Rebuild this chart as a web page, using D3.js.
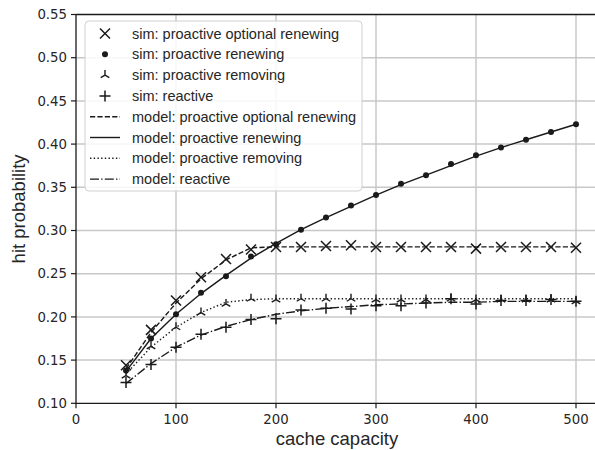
<!DOCTYPE html>
<html>
<head>
<meta charset="utf-8" />
<script src="https://cdn.jsdelivr.net/npm/d3@7"></script>
<style>
  body { margin: 0; background: #fff; }
  svg { display: block; }
  .tick-label { font-family: 'DejaVu Sans', sans-serif; font-size: 13.3px; fill: #262626; }
  .axis-label { font-family: 'Liberation Sans', Arial, sans-serif; font-size: 18.5px; fill: #262626; }
  .legend-text { font-family: 'Liberation Sans', Arial, sans-serif; font-size: 14.5px; fill: #262626; }
</style>
</head>
<body>
<svg id="chart"></svg>
<script>
// cache capacity values
var capacity = [50, 75, 100, 125, 150, 175, 200, 225, 250, 275, 300, 325, 350, 375, 400, 425, 450, 475, 500];

// simulation results (markers)
var simOptional = [0.144, 0.185, 0.219, 0.246, 0.267, 0.278, 0.281, 0.281, 0.282, 0.283, 0.281, 0.281, 0.281, 0.281, 0.279, 0.281, 0.281, 0.281, 0.280];
var simRenewing = [0.138, 0.175, 0.203, 0.228, 0.247, 0.270, 0.284, 0.301, 0.315, 0.329, 0.341, 0.354, 0.364, 0.377, 0.387, 0.396, 0.405, 0.414, 0.423];
var simRemoving = [0.132, 0.166, 0.188, 0.205, 0.215, 0.221, 0.220, 0.221, 0.221, 0.221, 0.220, 0.220, 0.220, 0.221, 0.220, 0.220, 0.220, 0.220, 0.218];
var simReactive = [0.124, 0.145, 0.165, 0.180, 0.188, 0.197, 0.198, 0.208, 0.210, 0.209, 0.213, 0.213, 0.216, 0.221, 0.215, 0.219, 0.219, 0.220, 0.218];

// model results (lines)
var modelOptional = [0.140, 0.182, 0.216, 0.244, 0.266, 0.280, 0.281, 0.281, 0.281, 0.281, 0.281, 0.281, 0.281, 0.281, 0.281, 0.281, 0.281, 0.281, 0.281];
var modelRenewing = [0.137, 0.175, 0.203, 0.227, 0.248, 0.268, 0.285, 0.301, 0.315, 0.328, 0.341, 0.353, 0.364, 0.375, 0.386, 0.396, 0.405, 0.414, 0.423];
var modelRemoving = [0.134, 0.165, 0.188, 0.205, 0.217, 0.220, 0.221, 0.221, 0.221, 0.221, 0.221, 0.221, 0.221, 0.221, 0.221, 0.221, 0.221, 0.221, 0.221];
var modelReactive = [0.123, 0.146, 0.165, 0.179, 0.189, 0.197, 0.203, 0.207, 0.210, 0.212, 0.214, 0.215, 0.216, 0.217, 0.217, 0.218, 0.218, 0.218, 0.218];

var xTicks = [0, 100, 200, 300, 400, 500];
var yTicks = [0.10, 0.15, 0.20, 0.25, 0.30, 0.35, 0.40, 0.45, 0.50, 0.55];

var legendLabels = [
  'sim: proactive optional renewing',
  'sim: proactive renewing',
  'sim: proactive removing',
  'sim: reactive',
  'model: proactive optional renewing',
  'model: proactive renewing',
  'model: proactive removing',
  'model: reactive'
];

var width = 595, height = 450;
var ink = '#1a1a1a';
var lw = 1.4;

var svg = d3.select('#chart')
  .attr('width', width)
  .attr('height', height);

var x = d3.scaleLinear().domain([0, 525]).range([76, 601]);
var y = d3.scaleLinear().domain([0.10, 0.55]).range([403.3, 14.5]);

var plot = svg.append('g');

// grid
plot.selectAll('.vgrid')
  .data(xTicks.slice(1))
  .enter().append('line')
  .attr('x1', function (d) { return x(d); })
  .attr('x2', function (d) { return x(d); })
  .attr('y1', y(0.55))
  .attr('y2', y(0.10))
  .attr('stroke', '#c8c8c8')
  .attr('stroke-width', 1.5);

plot.selectAll('.hgrid')
  .data(yTicks.slice(1, -1))
  .enter().append('line')
  .attr('x1', x(0))
  .attr('x2', width)
  .attr('y1', function (d) { return y(d); })
  .attr('y2', function (d) { return y(d); })
  .attr('stroke', '#c8c8c8')
  .attr('stroke-width', 1.5);

// model lines
var line = d3.line()
  .x(function (d) { return x(d[0]); })
  .y(function (d) { return y(d[1]); });

var styles = {
  dashed: '5.2,2.2',
  solid: null,
  dotted: '1.4,2.3',
  dashdot: '9,2.2,1.4,2.2'
};

var models = [
  { values: modelOptional, dash: styles.dashed },
  { values: modelRenewing, dash: styles.solid },
  { values: modelRemoving, dash: styles.dotted },
  { values: modelReactive, dash: styles.dashdot }
];

models.forEach(function (m) {
  plot.append('path')
    .datum(d3.zip(capacity, m.values))
    .attr('d', line)
    .attr('fill', 'none')
    .attr('stroke', ink)
    .attr('stroke-width', lw)
    .attr('stroke-dasharray', m.dash);
});

// markers
function drawMarker(g, kind) {
  if (kind === 'x') {
    g.append('path').attr('d', 'M-5,-5L5,5M-5,5L5,-5')
      .attr('stroke', ink).attr('stroke-width', 1.5).attr('fill', 'none');
  } else if (kind === 'dot') {
    g.append('circle').attr('r', 3).attr('fill', ink);
  } else if (kind === 'tri') {
    g.append('path').attr('d', 'M0,0L0,-5M0,0L-4.3,2.5M0,0L4.3,2.5')
      .attr('stroke', ink).attr('stroke-width', 1.4).attr('fill', 'none');
  } else if (kind === 'plus') {
    g.append('path').attr('d', 'M-5.5,0L5.5,0M0,-5.5L0,5.5')
      .attr('stroke', ink).attr('stroke-width', 1.5).attr('fill', 'none');
  }
}

var sims = [
  { values: simOptional, kind: 'x' },
  { values: simRenewing, kind: 'dot' },
  { values: simRemoving, kind: 'tri' },
  { values: simReactive, kind: 'plus' }
];

sims.forEach(function (s) {
  plot.selectAll(null)
    .data(d3.zip(capacity, s.values))
    .enter().append('g')
    .attr('transform', function (d) { return 'translate(' + x(d[0]) + ',' + y(d[1]) + ')'; })
    .each(function () { drawMarker(d3.select(this), s.kind); });
});

// spines
svg.append('line')
  .attr('x1', x(0)).attr('x2', x(0))
  .attr('y1', y(0.55)).attr('y2', y(0.10))
  .attr('stroke', ink).attr('stroke-width', 1.3);
svg.append('line')
  .attr('x1', x(0)).attr('x2', width)
  .attr('y1', y(0.10)).attr('y2', y(0.10))
  .attr('stroke', ink).attr('stroke-width', 1.3);
svg.append('line')
  .attr('x1', x(0)).attr('x2', width)
  .attr('y1', y(0.55)).attr('y2', y(0.55))
  .attr('stroke', ink).attr('stroke-width', 1.3);

// ticks and tick labels
svg.selectAll('.ytick')
  .data(yTicks)
  .enter().append('line')
  .attr('x1', x(0) - 5).attr('x2', x(0))
  .attr('y1', function (d) { return y(d); })
  .attr('y2', function (d) { return y(d); })
  .attr('stroke', ink).attr('stroke-width', 1.2);

svg.selectAll('.ylabel')
  .data(yTicks)
  .enter().append('text')
  .attr('class', 'tick-label')
  .attr('x', x(0) - 9)
  .attr('y', function (d) { return y(d); })
  .attr('dy', '0.36em')
  .attr('text-anchor', 'end')
  .text(function (d) { return d3.format('.2f')(d); });

svg.selectAll('.xtick')
  .data(xTicks)
  .enter().append('line')
  .attr('x1', function (d) { return x(d); })
  .attr('x2', function (d) { return x(d); })
  .attr('y1', y(0.10)).attr('y2', y(0.10) + 5)
  .attr('stroke', ink).attr('stroke-width', 1.2);

svg.selectAll('.xlabel')
  .data(xTicks)
  .enter().append('text')
  .attr('class', 'tick-label')
  .attr('x', function (d) { return x(d); })
  .attr('y', y(0.10) + 21)
  .attr('text-anchor', 'middle')
  .text(function (d) { return d; });

// axis titles
svg.append('text')
  .attr('class', 'axis-label')
  .attr('x', 337)
  .attr('y', 445)
  .attr('text-anchor', 'middle')
  .text('cache capacity');

svg.append('text')
  .attr('class', 'axis-label')
  .attr('transform', 'translate(25,' + (y(0.10) + y(0.55)) / 2 + ') rotate(-90)')
  .attr('text-anchor', 'middle')
  .text('hit probability');

// legend
var legend = svg.append('g');
legend.append('rect')
  .attr('x', 85).attr('y', 21)
  .attr('width', 277).attr('height', 170)
  .attr('rx', 4)
  .attr('fill', '#fff').attr('fill-opacity', 0.85)
  .attr('stroke', '#d0d0d0').attr('stroke-width', 1);

var legendKinds = ['x', 'dot', 'tri', 'plus'];
var legendDashes = [styles.dashed, styles.solid, styles.dotted, styles.dashdot];

legendLabels.forEach(function (label, i) {
  var cy = 33.5 + i * 20.8;
  if (i < 4) {
    var g = legend.append('g').attr('transform', 'translate(105,' + cy + ')');
    drawMarker(g, legendKinds[i]);
  } else {
    legend.append('line')
      .attr('x1', 90).attr('x2', 120)
      .attr('y1', cy).attr('y2', cy)
      .attr('stroke', ink).attr('stroke-width', lw)
      .attr('stroke-dasharray', legendDashes[i - 4]);
  }
  legend.append('text')
    .attr('class', 'legend-text')
    .attr('x', 132)
    .attr('y', cy)
    .attr('dy', '0.35em')
    .text(label);
});
</script>
</body>
</html>
